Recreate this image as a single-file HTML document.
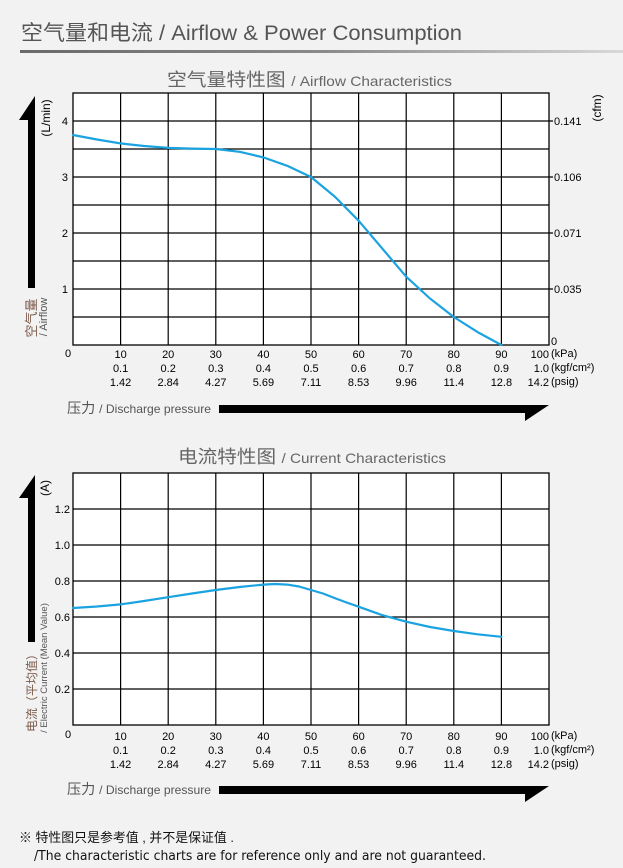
<!DOCTYPE html>
<html><head><meta charset="utf-8"><style>
html,body{margin:0;padding:0;background:#f2f2f2;}
svg{display:block}
</style></head><body>
<svg width="623" height="868" viewBox="0 0 623 868" xmlns="http://www.w3.org/2000/svg" font-family="Liberation Sans, Noto Sans CJK SC, sans-serif">
<defs><linearGradient id="g" x1="0" x2="1"><stop offset="0" stop-color="#6a6a6a"/><stop offset="0.5" stop-color="#8a8a8a"/><stop offset="1" stop-color="#d8d8d8"/></linearGradient></defs>
<rect width="623" height="868" fill="#f2f2f2"/>
<text x="21" y="40" font-size="21" fill="#555" textLength="441" lengthAdjust="spacingAndGlyphs">空气量和电流 / Airflow &amp; Power Consumption</text>
<rect x="20" y="50" width="603" height="3" fill="url(#g)"/>

<!-- Chart 1 -->
<text x="167" y="86" font-size="18" fill="#666" textLength="285" lengthAdjust="spacingAndGlyphs">空气量特性图 <tspan font-size="14">/ Airflow Characteristics</tspan></text>
<rect x="73" y="93" width="476" height="252" fill="#fff" stroke="#000" stroke-width="1.3"/>
<g stroke="#000" stroke-width="1.2">
<line x1="120.6" y1="93" x2="120.6" y2="345"/><line x1="168.2" y1="93" x2="168.2" y2="345"/><line x1="215.8" y1="93" x2="215.8" y2="345"/><line x1="263.4" y1="93" x2="263.4" y2="345"/><line x1="311" y1="93" x2="311" y2="345"/><line x1="358.6" y1="93" x2="358.6" y2="345"/><line x1="406.2" y1="93" x2="406.2" y2="345"/><line x1="453.8" y1="93" x2="453.8" y2="345"/><line x1="501.4" y1="93" x2="501.4" y2="345"/>
<line x1="73" y1="121" x2="553" y2="121"/><line x1="73" y1="149" x2="549" y2="149"/><line x1="73" y1="177" x2="553" y2="177"/><line x1="73" y1="205" x2="549" y2="205"/><line x1="73" y1="233" x2="553" y2="233"/><line x1="73" y1="261" x2="549" y2="261"/><line x1="73" y1="289" x2="553" y2="289"/><line x1="73" y1="317" x2="549" y2="317"/>
</g>
<polyline fill="none" stroke="#1aa3e0" stroke-width="2.2" stroke-linejoin="round" stroke-linecap="round" points="73,135 97,139.5 120.6,143.4 144,146 168.2,147.9 192,148.6 215.8,149 239.6,151.8 263.4,157.4 287.2,165.8 311,177 334.8,196.6 358.6,220.7 382.4,248.7 406.2,276.7 430,298.5 453.8,317 477.6,332.1 501.4,345"/>
<g font-size="11" fill="#000" text-anchor="end">
<text x="68" y="125">4</text><text x="68" y="181">3</text><text x="68" y="237">2</text><text x="68" y="293">1</text>
</g>
<g font-size="11" fill="#000">
<text x="554" y="125">0.141</text><text x="554" y="181">0.106</text><text x="554" y="237">0.071</text><text x="554" y="293">0.035</text><text x="551" y="345">0</text>
<text x="65" y="357">0</text>
</g>
<text transform="translate(601,108) rotate(-90)" font-size="12" text-anchor="middle">(cfm)</text>
<text transform="translate(50,118) rotate(-90)" font-size="12" text-anchor="middle">(L/min)</text>
<text transform="translate(36,318) rotate(-90)" font-size="13" fill="#7a5a4a" text-anchor="middle">空气量</text>
<text transform="translate(47,317) rotate(-90)" font-size="11" fill="#555" text-anchor="middle">/ Airflow</text>
<polygon points="28,288 35,288 35,96 19,120 28,120" fill="#000"/>
<g font-size="11" fill="#000" text-anchor="middle">
<text x="120.6" y="358">10</text><text x="168.2" y="358">20</text><text x="215.8" y="358">30</text><text x="263.4" y="358">40</text><text x="311" y="358">50</text><text x="358.6" y="358">60</text><text x="406.2" y="358">70</text><text x="453.8" y="358">80</text><text x="501.4" y="358">90</text>
<text x="120.6" y="372">0.1</text><text x="168.2" y="372">0.2</text><text x="215.8" y="372">0.3</text><text x="263.4" y="372">0.4</text><text x="311" y="372">0.5</text><text x="358.6" y="372">0.6</text><text x="406.2" y="372">0.7</text><text x="453.8" y="372">0.8</text><text x="501.4" y="372">0.9</text>
<text x="120.6" y="386">1.42</text><text x="168.2" y="386">2.84</text><text x="215.8" y="386">4.27</text><text x="263.4" y="386">5.69</text><text x="311" y="386">7.11</text><text x="358.6" y="386">8.53</text><text x="406.2" y="386">9.96</text><text x="453.8" y="386">11.4</text><text x="501.4" y="386">12.8</text>
</g>
<g font-size="11" fill="#000" text-anchor="end"><text x="549" y="358">100</text><text x="549" y="372">1.0</text><text x="549" y="386">14.2</text></g>
<g font-size="11" fill="#000"><text x="551" y="357">(kPa)</text><text x="551" y="371">(kgf/cm²)</text><text x="551" y="385">(psig)</text></g>
<text x="67" y="413" font-size="14" fill="#555" textLength="144" lengthAdjust="spacingAndGlyphs">压力 <tspan font-size="12">/ Discharge pressure</tspan></text>
<polygon points="219,405 549,405 525,421 525,413 219,413" fill="#000"/>

<!-- Chart 2 -->
<text x="178" y="463" font-size="18" fill="#666" textLength="268" lengthAdjust="spacingAndGlyphs">电流特性图 <tspan font-size="14">/ Current Characteristics</tspan></text>
<rect x="73" y="473" width="476" height="252" fill="#fff" stroke="#000" stroke-width="1.3"/>
<g stroke="#000" stroke-width="1.2">
<line x1="120.6" y1="473" x2="120.6" y2="725"/><line x1="168.2" y1="473" x2="168.2" y2="725"/><line x1="215.8" y1="473" x2="215.8" y2="725"/><line x1="263.4" y1="473" x2="263.4" y2="725"/><line x1="311" y1="473" x2="311" y2="725"/><line x1="358.6" y1="473" x2="358.6" y2="725"/><line x1="406.2" y1="473" x2="406.2" y2="725"/><line x1="453.8" y1="473" x2="453.8" y2="725"/><line x1="501.4" y1="473" x2="501.4" y2="725"/>
<line x1="73" y1="509" x2="549" y2="509"/><line x1="73" y1="545" x2="549" y2="545"/><line x1="73" y1="581" x2="549" y2="581"/><line x1="73" y1="617" x2="549" y2="617"/><line x1="73" y1="653" x2="549" y2="653"/><line x1="73" y1="689" x2="549" y2="689"/>
</g>
<polyline fill="none" stroke="#1aa3e0" stroke-width="2.2" stroke-linejoin="round" stroke-linecap="round" points="73,608 97,606.5 120.6,604.4 144,601 168.2,597.2 192,593.5 215.8,590 239.6,587 263.4,584.6 275,584 287.2,584.6 299,586.5 311,590 323,593.5 334.8,598.1 346.6,602.5 358.6,606.7 382.4,615.2 406.2,621.7 430,627 453.8,631 477.6,634.3 501.4,636.8"/>
<g font-size="11" fill="#000" text-anchor="end">
<text x="70" y="513">1.2</text><text x="70" y="549">1.0</text><text x="70" y="585">0.8</text><text x="70" y="621">0.6</text><text x="70" y="657">0.4</text><text x="70" y="693">0.2</text>
</g>
<text x="65" y="738" font-size="11">0</text>
<text transform="translate(49,488) rotate(-90)" font-size="12" text-anchor="middle">(A)</text>
<text transform="translate(36,690) rotate(-90)" font-size="12" fill="#7a5a4a" text-anchor="middle">电流（平均值）</text>
<text transform="translate(47,668) rotate(-90)" font-size="9.5" fill="#555" text-anchor="middle">/ Electric Current (Mean Value)</text>
<polygon points="28,642 35,642 35,475 19,498 28,498" fill="#000"/>
<g font-size="11" fill="#000" text-anchor="middle">
<text x="120.6" y="740">10</text><text x="168.2" y="740">20</text><text x="215.8" y="740">30</text><text x="263.4" y="740">40</text><text x="311" y="740">50</text><text x="358.6" y="740">60</text><text x="406.2" y="740">70</text><text x="453.8" y="740">80</text><text x="501.4" y="740">90</text>
<text x="120.6" y="754">0.1</text><text x="168.2" y="754">0.2</text><text x="215.8" y="754">0.3</text><text x="263.4" y="754">0.4</text><text x="311" y="754">0.5</text><text x="358.6" y="754">0.6</text><text x="406.2" y="754">0.7</text><text x="453.8" y="754">0.8</text><text x="501.4" y="754">0.9</text>
<text x="120.6" y="768">1.42</text><text x="168.2" y="768">2.84</text><text x="215.8" y="768">4.27</text><text x="263.4" y="768">5.69</text><text x="311" y="768">7.11</text><text x="358.6" y="768">8.53</text><text x="406.2" y="768">9.96</text><text x="453.8" y="768">11.4</text><text x="501.4" y="768">12.8</text>
</g>
<g font-size="11" fill="#000" text-anchor="end"><text x="549" y="740">100</text><text x="549" y="754">1.0</text><text x="549" y="768">14.2</text></g>
<g font-size="11" fill="#000"><text x="551" y="739">(kPa)</text><text x="551" y="753">(kgf/cm²)</text><text x="551" y="767">(psig)</text></g>
<text x="67" y="794" font-size="14" fill="#555" textLength="144" lengthAdjust="spacingAndGlyphs">压力 <tspan font-size="12">/ Discharge pressure</tspan></text>
<polygon points="219,786 549,786 525,802 525,794 219,794" fill="#000"/>

<text x="19" y="842" font-size="13" fill="#111" textLength="215" lengthAdjust="spacingAndGlyphs">※ 特性图只是参考值 , 并不是保证值 .</text>
<text x="34" y="860" font-size="13" fill="#111" textLength="452" lengthAdjust="spacingAndGlyphs" font-family="DejaVu Sans Condensed, DejaVu Sans, sans-serif">/The characteristic charts are for reference only and are not guaranteed.</text>
</svg>
</body></html>
